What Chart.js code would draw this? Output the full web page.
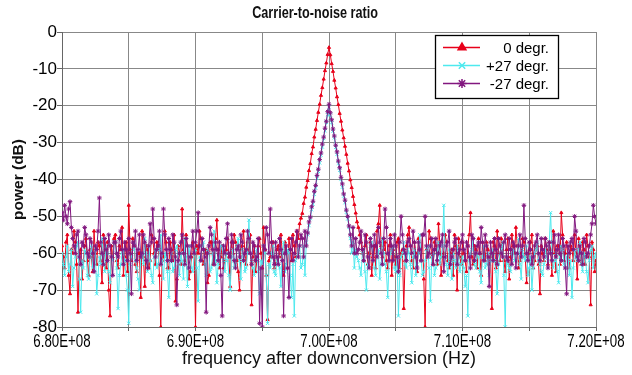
<!DOCTYPE html>
<html>
<head>
<meta charset="utf-8">
<script src="https://cdn.jsdelivr.net/npm/chart.js@4/dist/chart.umd.min.js"></script>
<style>
html,body{margin:0;padding:0;background:#fff;}
#wrap{width:632px;height:375px;}
</style>
</head>
<body>
<div id="wrap"><canvas id="c" width="632" height="375"></canvas></div>
<script>
// Frequency after downconversion, in MHz (axis labels show Hz)
const freqs = [
680.0,680.1,680.2,680.3,680.4,680.5,680.6,680.7,680.8,680.9,681.0,681.1,681.2,681.3,681.4,681.5,681.6,681.7,681.8,681.9,
682.0,682.1,682.2,682.3,682.4,682.5,682.6,682.7,682.8,682.9,683.0,683.1,683.2,683.3,683.4,683.5,683.6,683.7,683.8,683.9,
684.0,684.1,684.2,684.3,684.4,684.5,684.6,684.7,684.8,684.9,685.0,685.1,685.2,685.3,685.4,685.5,685.6,685.7,685.8,685.9,
686.0,686.1,686.2,686.3,686.4,686.5,686.6,686.7,686.8,686.9,687.0,687.1,687.2,687.3,687.4,687.5,687.6,687.7,687.8,687.9,
688.0,688.1,688.2,688.3,688.4,688.5,688.6,688.7,688.8,688.9,689.0,689.1,689.2,689.3,689.4,689.5,689.6,689.7,689.8,689.9,
690.0,690.1,690.2,690.3,690.4,690.5,690.6,690.7,690.8,690.9,691.0,691.1,691.2,691.3,691.4,691.5,691.6,691.7,691.8,691.9,
692.0,692.1,692.2,692.3,692.4,692.5,692.6,692.7,692.8,692.9,693.0,693.1,693.2,693.3,693.4,693.5,693.6,693.7,693.8,693.9,
694.0,694.1,694.2,694.3,694.4,694.5,694.6,694.7,694.8,694.9,695.0,695.1,695.2,695.3,695.4,695.5,695.6,695.7,695.8,695.9,
696.0,696.1,696.2,696.3,696.4,696.5,696.6,696.7,696.8,696.9,697.0,697.1,697.2,697.3,697.4,697.5,697.6,697.7,697.8,697.9,
698.0,698.1,698.2,698.3,698.4,698.5,698.6,698.7,698.8,698.9,699.0,699.1,699.2,699.3,699.4,699.5,699.6,699.7,699.8,699.9,
700.0,700.1,700.2,700.3,700.4,700.5,700.6,700.7,700.8,700.9,701.0,701.1,701.2,701.3,701.4,701.5,701.6,701.7,701.8,701.9,
702.0,702.1,702.2,702.3,702.4,702.5,702.6,702.7,702.8,702.9,703.0,703.1,703.2,703.3,703.4,703.5,703.6,703.7,703.8,703.9,
704.0,704.1,704.2,704.3,704.4,704.5,704.6,704.7,704.8,704.9,705.0,705.1,705.2,705.3,705.4,705.5,705.6,705.7,705.8,705.9,
706.0,706.1,706.2,706.3,706.4,706.5,706.6,706.7,706.8,706.9,707.0,707.1,707.2,707.3,707.4,707.5,707.6,707.7,707.8,707.9,
708.0,708.1,708.2,708.3,708.4,708.5,708.6,708.7,708.8,708.9,709.0,709.1,709.2,709.3,709.4,709.5,709.6,709.7,709.8,709.9,
710.0,710.1,710.2,710.3,710.4,710.5,710.6,710.7,710.8,710.9,711.0,711.1,711.2,711.3,711.4,711.5,711.6,711.7,711.8,711.9,
712.0,712.1,712.2,712.3,712.4,712.5,712.6,712.7,712.8,712.9,713.0,713.1,713.2,713.3,713.4,713.5,713.6,713.7,713.8,713.9,
714.0,714.1,714.2,714.3,714.4,714.5,714.6,714.7,714.8,714.9,715.0,715.1,715.2,715.3,715.4,715.5,715.6,715.7,715.8,715.9,
716.0,716.1,716.2,716.3,716.4,716.5,716.6,716.7,716.8,716.9,717.0,717.1,717.2,717.3,717.4,717.5,717.6,717.7,717.8,717.9,
718.0,718.1,718.2,718.3,718.4,718.5,718.6,718.7,718.8,718.9,719.0,719.1,719.2,719.3,719.4,719.5,719.6,719.7,719.8,719.9,
720.0
];

// power (dB), 0 degr.
const deg0 = [
-58,-61,-64,-57,-55,-66,-71,-59,-60,-54,-57,-63,-76,-60,-59,-67,-62,-58,-56,-62,
-66,-59,-61,-65,-54,-60,-63,-57,-58,-62,-68,-55,-60,-64,-57,-70,-77,-58,-61,-56,
-55,-62,-64,-58,-59,-53,-66,-61,-57,-65,-47,-59,-62,-56,-58,-63,-65,-60,-60,-72,
-54,-61,-69,-58,-59,-64,-62,-55,-56,-60,-63,-57,-58,-66,-80,-62,-61,-54,-57,-64,
-64,-57,-59,-62,-55,-73,-67,-58,-60,-63,-48,-59,-62,-55,-58,-67,-65,-61,-57,-60,
-80,-58,-60,-54,-56,-62,-63,-60,-59,-68,-66,-57,-57,-63,-61,-56,-51,-59,-64,-61,
-58,-64,-62,-59,-56,-61,-69,-57,-60,-55,-57,-62,-65,-70,-59,-58,-54,-60,-63,-57,
-60,-55,-74,-61,-58,-65,-62,-58,-56,-60,-64,-53,-59,-66,-78,-62,-61,-57,-57,-64,
-63,-59,-58,-61,-55,-60,-66,-57,-60,-64,-56,-59,-62,-55,-58,-61,-54,-56,-52,-50.5,
-49.2,-46.5,-44.8,-42.1,-40.3,-37.6,-35.7,-33.0,-31.2,-28.5,-26.4,-24.0,-21.8,-19.6,-17.2,-15.1,-12.8,-10.5,-8.4,-6.1,
-4.2,-6.2,-8.6,-10.7,-13.1,-15.2,-17.6,-19.7,-22.1,-24.2,-26.6,-28.7,-31.0,-33.2,-35.6,-37.7,-40.1,-42.2,-44.6,-46.8,
-49.1,-51.5,-53,-55,-57,-60,-62,-58,-55,-63,-60,-57,-66,-61,-58,-64,-54,-52,-47,-58,
-61,-59,-57,-62,-64,-58,-55,-66,-59,-61,-63,-57,-56,-64,-60,-59,-75,-62,-58,-55,
-53,-58,-62,-64,-57,-60,-65,-56,-59,-62,-55,-67,-80,-59,-60,-54,-56,-61,-63,-57,
-58,-63,-52,-57,-66,-61,-60,-55,-57,-62,-64,-60,-59,-66,-55,-58,-70,-56,-61,-63,
-57,-60,-62,-65,-58,-55,-49,-61,-63,-58,-59,-64,-56,-60,-66,-57,-60,-62,-57,-59,
-63,-61,-75,-57,-58,-64,-54,-60,-62,-56,-59,-62,-65,-59,-56,-67,-61,-55,-58,-60,
-53,-58,-64,-62,-60,-56,-57,-61,-68,-60,-59,-57,-55,-64,-62,-59,-58,-63,-71,-58,
-60,-62,-56,-59,-63,-57,-59,-66,-54,-60,-65,-58,-58,-63,-49,-55,-62,-60,-57,-61,
-64,-58,-59,-62,-55,-60,-67,-56,-60,-63,-57,-59,-63,-55,-58,-61,-74,-57,-59,-65,
-62
];

// power (dB), +27 degr.
const degPlus27 = [
-60,-63,-66,-61,-58,-65,-63,-59,-69,-64,-61,-58,-57,-67,-76,-62,-64,-59,-60,-66,
-67,-61,-58,-64,-63,-59,-71,-66,-61,-63,-56,-60,-65,-58,-60,-65,-68,-61,-62,-57,
-57,-64,-75,-66,-63,-60,-59,-62,-66,-70,-79,-63,-61,-59,-57,-62,-64,-67,-70,-61,
-60,-63,-56,-60,-65,-58,-62,-66,-68,-61,-59,-64,-63,-59,-55,-62,-67,-60,-61,-65,
-72,-62,-60,-65,-64,-59,-58,-63,-66,-60,-62,-67,-56,-61,-69,-58,-61,-64,-65,-60,
-59,-64,-73,-61,-62,-58,-57,-63,-66,-59,-60,-65,-64,-60,-54,-62,-68,-63,-61,-58,
-58,-62,-65,-60,-62,-66,-70,-61,-59,-64,-63,-58,-56,-62,-67,-59,-61,-65,-64,-60,
-51,-60,-62,-64,-66,-61,-59,-65,-71,-62,-63,-58,-60,-66,-79,-63,-64,-60,-58,-65,
-66,-62,-61,-64,-69,-60,-57,-65,-63,-59,-60,-66,-72,-63,-77,-62,-61,-59,-58,-64,
-63,-58,-66,-57,-55,-52.5,-50.6,-48.2,-46.7,-44.0,-42.3,-39.6,-37.8,-35.5,-33.4,-31.2,-28.9,-26.8,-24.5,-22.4,
-20.3,-22.5,-24.6,-26.9,-28.7,-31.3,-33.2,-35.6,-37.5,-40.0,-42.1,-44.5,-46.3,-48.9,-50.7,-53.0,-56,-60,-57,-64,
-59,-61,-62,-64,-66,-60,-59,-65,-70,-63,-61,-58,-57,-62,-64,-66,-60,-59,-67,-63,
-56,-60,-63,-65,-72,-62,-60,-59,-58,-64,-65,-61,-77,-66,-61,-60,-57,-63,-64,-59,
-60,-63,-68,-61,-59,-66,-63,-60,-55,-62,-66,-65,-62,-59,-58,-64,-73,-61,-60,-66,
-64,-60,-57,-63,-61,-58,-47,-61,-63,-66,-59,-62,-67,-60,-62,-64,-58,-61,-65,-63,
-61,-64,-69,-66,-77,-62,-60,-59,-56,-63,-64,-60,-61,-65,-68,-61,-58,-64,-63,-60,
-66,-62,-59,-60,-62,-65,-71,-63,-60,-59,-57,-66,-80,-61,-63,-64,-65,-60,-59,-62,
-62,-60,-56,-63,-67,-59,-61,-62,-58,-66,-64,-61,-70,-64,-60,-59,-57,-62,-63,-65,
-66,-63,-59,-61,-62,-57,-49,-60,-64,-62,-60,-65,-68,-61,-58,-59,-63,-64,-61,-60,
-66,-62,-72,-64,-59,-61,-62,-59,-57,-63,-65,-60,-61,-65,-68,-62,-59,-58,-64,-61,
-60
];

// power (dB), -27 degr.
const degMinus27 = [
-49,-51,-47,-50,-52,-48,-46,-53,-56,-58,-60,-55,-54,-61,-63,-57,-58,-53,-55,-60,
-61,-56,-57,-60,-65,-58,-59,-54,-45,-57,-60,-63,-56,-59,-62,-55,-58,-61,-66,-57,
-57,-60,-61,-56,-54,-59,-63,-57,-59,-62,-56,-60,-71,-57,-58,-54,-62,-59,-55,-61,
-60,-55,-57,-62,-64,-58,-52,-57,-48,-56,-61,-59,-58,-54,-63,-60,-48,-55,-59,-62,
-56,-59,-62,-55,-57,-61,-74,-62,-60,-57,-55,-60,-63,-56,-58,-64,-61,-58,-54,-60,
-57,-54,-49,-58,-62,-56,-59,-61,-76,-60,-58,-53,-55,-59,-63,-57,-59,-62,-57,-66,
-77,-58,-60,-56,-52,-60,-61,-55,-57,-62,-64,-59,-58,-61,-55,-57,-62,-60,-59,-54,
-56,-60,-63,-57,-58,-62,-61,-56,-79,-64,-80,-58,-59,-53,-55,-60,-48,-57,-61,-63,
-57,-61,-63,-56,-59,-62,-77,-60,-58,-64,-72,-59,-56,-62,-60,-57,-54,-61,-58,-55,
-56,-61,-54,-58,-54.5,-51.5,-50.2,-47.4,-45.9,-43.2,-41.6,-38.9,-37.2,-34.6,-32.8,-30.4,-28.5,-26.1,-24.2,-21.6,
-19.6,-21.9,-23.8,-26.3,-28.2,-30.7,-32.5,-35.0,-36.8,-39.4,-41.2,-43.9,-45.6,-48.3,-50.0,-52.6,-55,-58,-53,-60,
-56,-60,-59,-57,-54,-59,-62,-55,-57,-61,-64,-56,-58,-62,-55,-58,-61,-53,-57,-60,
-63,-56,-48,-53,-60,-62,-56,-58,-62,-55,-58,-61,-65,-57,-50,-55,-59,-60,-62,-57,
-56,-58,-60,-54,-57,-61,-64,-57,-59,-62,-55,-55,-50,-58,-61,-60,-58,-56,-63,-59,
-56,-62,-60,-58,-57,-55,-65,-61,-58,-57,-54,-63,-61,-59,-57,-56,-63,-60,-59,-57,
-55,-59,-62,-57,-58,-61,-64,-55,-56,-62,-60,-58,-57,-60,-53,-57,-62,-55,-58,-61,
-69,-57,-60,-62,-56,-59,-63,-56,-58,-60,-61,-57,-55,-61,-62,-56,-59,-63,-57,-58,
-64,-60,-58,-55,-61,-58,-47,-56,-60,-62,-57,-59,-63,-61,-58,-57,-55,-60,-62,-56,
-59,-61,-56,-58,-64,-57,-60,-62,-57,-55,-61,-59,-55,-60,-62,-56,-58,-64,-71,-58,
-60,-57,-56,-59,-50,-54,-61,-62,-58,-60,-63,-56,-57,-61,-60,-58,-55,-52,-47,-50,
-52
];

const seriesLabels = ['0 degr.', '+27 degr.', '-27 degr.'];
const yTicks = [0, -10, -20, -30, -40, -50, -60, -70, -80];
const xLabelTicks = [680, 690, 700, 710, 720];
const chartTitle = 'Carrier-to-noise ratio';

const toPts = vals => freqs.map((f, i) => ({x: f, y: vals[i]}));
const fmtHz = v => (v / 100).toFixed(2) + 'E+08';

const FONT = '"Liberation Sans", Arial, sans-serif';
Chart.defaults.font.family = FONT;
Chart.defaults.color = '#000';

// condensed text (title and x tick labels), drawn from the chart's own scale
function condensedText(ctx, text, x, y, font, sx) {
  ctx.save();
  ctx.translate(x, y);
  ctx.scale(sx, 1);
  ctx.font = font;
  ctx.textAlign = 'center';
  ctx.textBaseline = 'middle';
  ctx.fillText(text, 0, 0);
  ctx.restore();
}

const textPlugin = {
  id: 'condensedLabels',
  afterDraw(chart) {
    const ctx = chart.ctx;
    const xs = chart.scales.x;
    const ca = chart.chartArea;
    ctx.save();
    ctx.fillStyle = '#111';
    condensedText(ctx, chartTitle, chart.width / 2 - 1, 14, 'bold 16px ' + FONT, 0.79);
    ctx.fillStyle = '#000';
    xs.ticks.forEach(t => {
      if (xLabelTicks.includes(Math.round(t.value))) {
        condensedText(ctx, fmtHz(t.value), xs.getPixelForValue(t.value), ca.bottom + 15, '19px ' + FONT, 0.7);
      }
    });
    ctx.restore();
  }
};

const boxLegend = {
  id: 'boxLegend',
  afterDraw(chart) {
    const ctx = chart.ctx;
    const ca = chart.chartArea;
    const ds = chart.data.datasets;
    const x0 = ca.right - 161, y0 = ca.top + 3, w = 123, h = 63;
    ctx.save();
    ctx.fillStyle = '#fff';
    ctx.fillRect(x0, y0, w, h);
    ctx.strokeStyle = '#000';
    ctx.lineWidth = 1.3;
    ctx.strokeRect(x0 + 0.5, y0 + 0.5, w, h);
    ds.forEach((d, i) => {
      const y = y0 + 12.5 + i * 18;
      ctx.strokeStyle = d.borderColor;
      ctx.lineWidth = 1.5;
      ctx.beginPath();
      ctx.moveTo(x0 + 8, y);
      ctx.lineTo(x0 + 45, y);
      ctx.stroke();
      ctx.fillStyle = d.pointBackgroundColor;
      ctx.strokeStyle = d.pointBorderColor;
      Chart.helpers.drawPoint(ctx, {pointStyle: d.pointStyle, radius: 4.5, borderWidth: 1.5, rotation: 0}, x0 + 27, y);
      ctx.fillStyle = '#000';
      ctx.font = '15px ' + FONT;
      ctx.textAlign = 'right';
      ctx.textBaseline = 'middle';
      ctx.fillText(seriesLabels[i], x0 + w - 9, y + 1);
    });
    ctx.restore();
  }
};

const mk = (label, vals, color, style, r, order) => ({
  label, data: toPts(vals), borderColor: color, backgroundColor: color,
  pointBackgroundColor: color, pointBorderColor: color,
  pointStyle: style, pointRadius: r, pointBorderWidth: 1,
  borderWidth: 1, tension: 0, order
});

new Chart(document.getElementById('c'), {
  type: 'line',
  data: {
    datasets: [
      mk(seriesLabels[0], deg0, '#e8001a', 'triangle', 1.8, 3),
      mk(seriesLabels[1], degPlus27, '#4ee9ee', 'crossRot', 2.3, 2),
      mk(seriesLabels[2], degMinus27, '#82177f', 'star', 2.3, 1)
    ]
  },
  options: {
    responsive: false,
    animation: false,
    devicePixelRatio: 1,
    layout: {padding: {top: 32, right: 36, left: 0, bottom: 0}},
    plugins: {
      legend: {display: false},
      tooltip: {enabled: false},
      title: {display: false}
    },
    scales: {
      x: {
        type: 'linear',
        min: 680, max: 720,
        afterFit: s => { s.height = 48; },
        ticks: {stepSize: 5, autoSkip: false, maxRotation: 0, display: false},
        grid: {color: '#888', lineWidth: 1, tickLength: 4, tickColor: '#666'},
        border: {color: '#666', width: 1},
        title: {
          display: true,
          text: 'frequency after downconversion (Hz)',
          font: {size: 18},
          color: '#111',
          padding: {top: 0, bottom: 5}
        }
      },
      y: {
        min: -80, max: 0,
        afterFit: s => { s.width = 62; },
        afterBuildTicks: s => { s.ticks = yTicks.map(v => ({value: v})); },
        ticks: {font: {size: 17}, color: '#000', padding: 0},
        grid: {color: '#888', lineWidth: 1, tickLength: 5, tickColor: '#666'},
        border: {color: '#666', width: 1},
        title: {
          display: true,
          text: 'power (dB)',
          font: {size: 15.5, weight: 'bold'},
          color: '#111',
          padding: {top: 9, bottom: 0}
        }
      }
    }
  },
  plugins: [textPlugin, boxLegend]
});
</script>
</body>
</html>
